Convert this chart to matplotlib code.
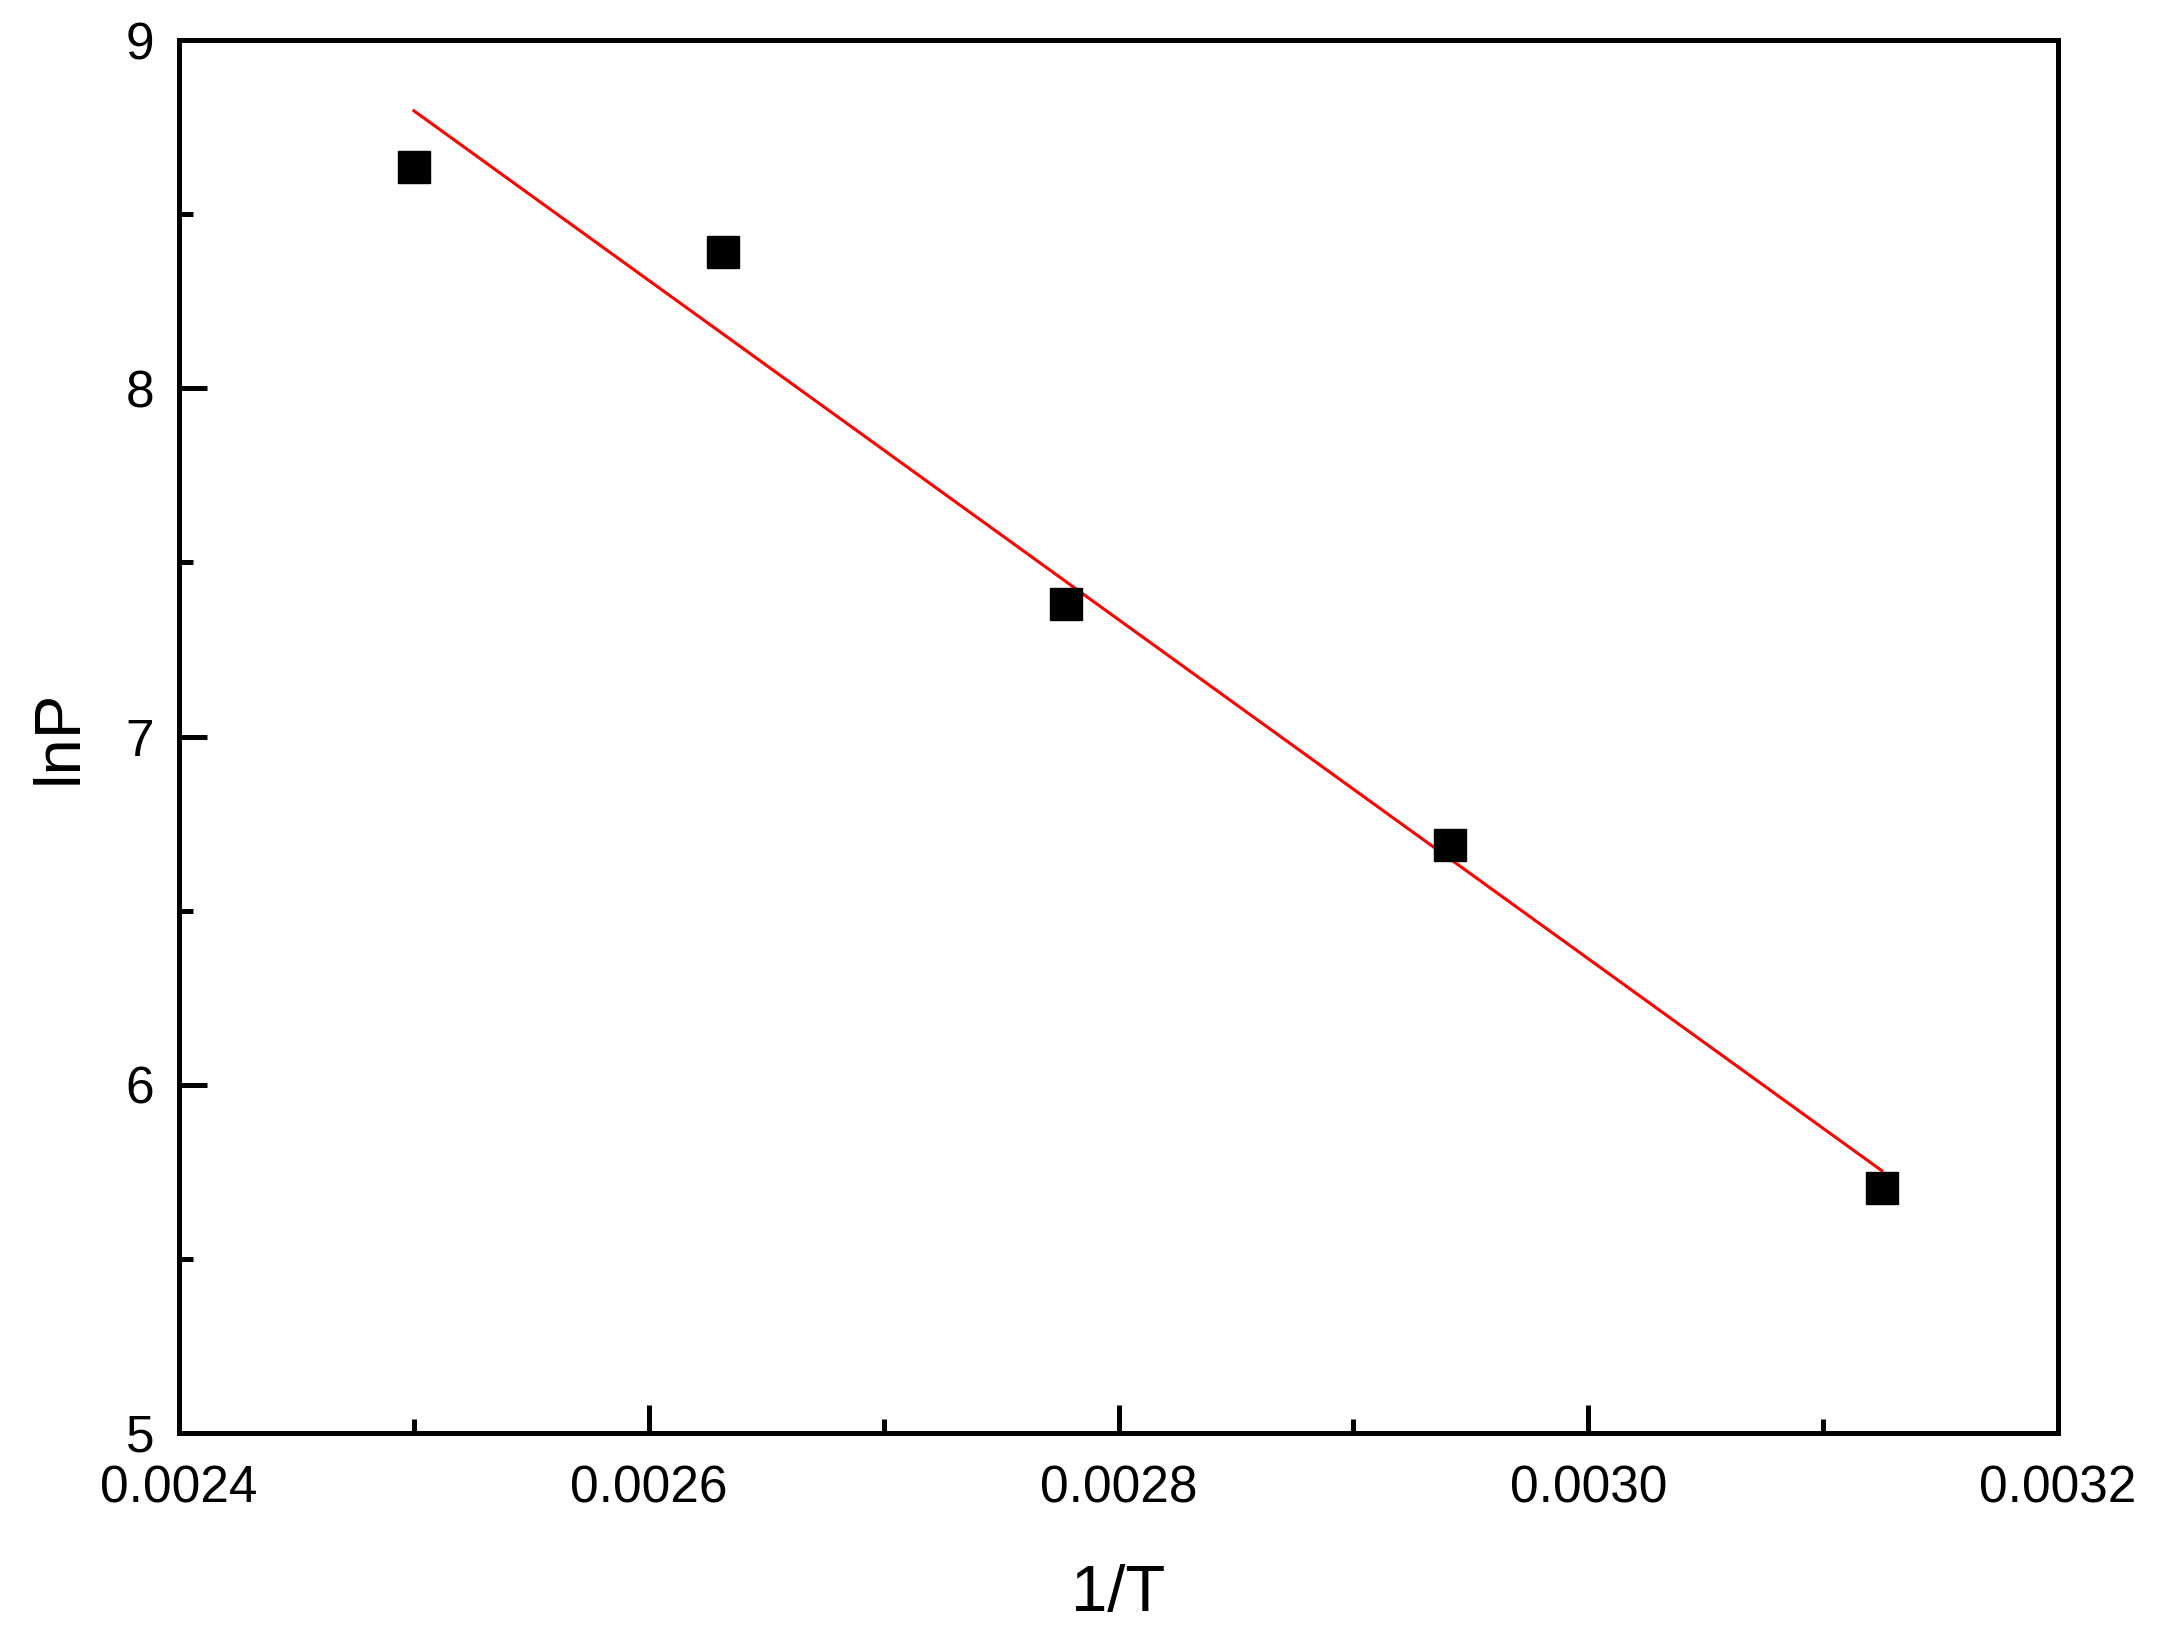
import matplotlib.pyplot as plt
import numpy as np
from matplotlib.ticker import MultipleLocator, FormatStrFormatter

plt.rcParams['font.family'] = ['Liberation Sans', 'DejaVu Sans']

# 1/T and lnP values
inv_T = [1 / 400, 1 / 380, 1 / 360, 1 / 340, 1 / 320]
lnP = [8.635, 8.391, 7.380, 6.688, 5.704]

slope, intercept = np.polyfit(inv_T, lnP, 1)
x_fit = np.array([min(inv_T), max(inv_T)])
y_fit = slope * x_fit + intercept

fig = plt.figure(figsize=(21.58, 16.34), dpi=100)
ax = fig.add_axes([179 / 2158, 1 - 1433 / 1634, (2058 - 179) / 2158, (1433 - 40) / 1634])

ax.plot(inv_T, lnP, linestyle='none', marker='s', markersize=22.5, color='black', zorder=3)
ax.plot(x_fit, y_fit, color='red', linewidth=2.2, zorder=2)

ax.set_xlim(0.0024, 0.0032)
ax.set_ylim(5, 9)
ax.xaxis.set_major_locator(MultipleLocator(0.0002))
ax.xaxis.set_minor_locator(MultipleLocator(0.0001))
ax.xaxis.set_major_formatter(FormatStrFormatter('%.4f'))
ax.yaxis.set_major_locator(MultipleLocator(1))
ax.yaxis.set_minor_locator(MultipleLocator(0.5))

for s in ax.spines.values():
    s.set_linewidth(3.6)

ax.tick_params(which='both', direction='in', top=False, right=False, width=3.6)
ax.tick_params(which='major', length=20, labelsize=37, pad=18)
ax.tick_params(axis='x', which='major', pad=23)
ax.tick_params(which='minor', length=10)

ax.set_xlabel('1/T', fontsize=47, labelpad=36)
ax.set_ylabel('lnP', fontsize=47, labelpad=26)

fig.savefig('out.png', dpi=100)
